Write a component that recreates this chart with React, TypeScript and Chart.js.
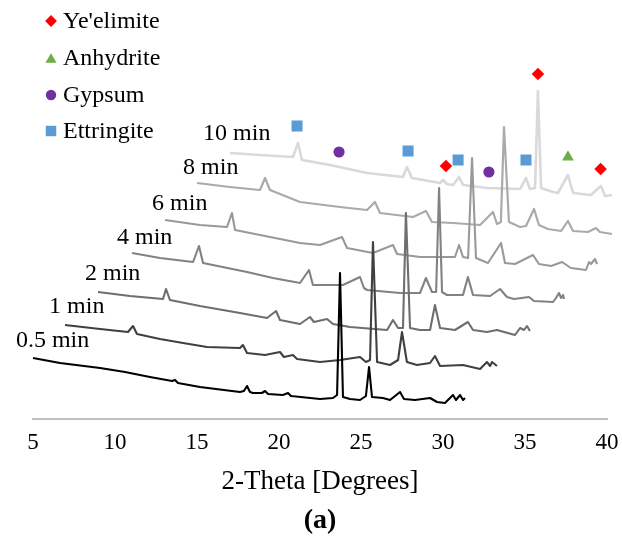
import React, { useEffect, useRef } from 'react';
import { Chart, registerables } from 'chart.js';

Chart.register(...registerables);

const FONT = "'Liberation Serif', 'Times New Roman', Times, serif";

// ---------- DATA (2-Theta in degrees, offset intensity in arbitrary units) ----------
const seriesNames = ['0.5 min', '1 min', '2 min', '4 min', '6 min', '8 min', '10 min'];

const s05: [number, number][] = [
  [5.0, 61], [6.65, 56], [9.09, 51], [10.61, 47], [12.13, 42], [13.48, 38], [13.66, 39], [13.84, 36],
  [15.18, 32], [17.62, 27], [17.86, 28], [18.05, 33], [18.23, 27], [18.41, 26], [18.96, 26], [19.15, 28],
  [19.33, 25], [20.24, 24], [20.55, 26], [20.73, 23], [22.5, 20], [23.29, 21], [23.54, 24], [23.72, 146],
  [23.9, 22], [24.33, 20], [24.94, 19], [25.3, 23], [25.49, 52], [25.67, 22], [26.34, 21], [26.77, 19],
  [27.38, 27], [27.62, 20], [28.29, 19], [29.21, 21], [29.63, 17], [30.12, 16], [30.61, 24], [30.79, 19],
  [31.04, 24], [31.22, 19], [31.34, 21],
];
const s1: [number, number][] = [
  [6.95, 94], [9.09, 90], [10.79, 87], [11.1, 93], [11.34, 85], [12.74, 80], [14.15, 76], [15.61, 72],
  [17.62, 71], [17.8, 74], [18.05, 66], [19.15, 64], [20.06, 67], [20.3, 62], [20.85, 64], [21.1, 60],
  [22.5, 57], [23.72, 59], [24.94, 62], [25.3, 57], [25.55, 59], [25.73, 177], [25.98, 57], [26.77, 54],
  [27.26, 59], [27.5, 87], [27.8, 57], [28.41, 54], [29.21, 56], [29.51, 63], [29.82, 53], [31.22, 54],
  [32.26, 50], [32.68, 57], [32.87, 53], [32.99, 57], [33.29, 53],
];
const s2: [number, number][] = [
  [8.96, 127], [10.91, 123], [12.93, 120], [13.11, 130], [13.35, 119], [15.18, 113], [17.62, 106],
  [19.27, 101], [19.82, 108], [20.06, 99], [21.28, 95], [21.89, 102], [22.13, 97], [22.93, 100], [23.29, 95],
  [24.33, 92], [26.59, 89], [26.95, 99], [27.26, 91], [27.56, 91], [27.74, 206], [27.99, 91], [28.6, 89],
  [29.21, 89], [29.51, 114], [29.82, 91], [30.73, 89], [31.52, 97], [31.83, 89], [32.68, 87], [33.29, 89],
  [34.39, 84], [34.7, 91], [34.94, 89], [35.12, 93], [35.3, 88],
];
const s4: [number, number][] = [
  [11.04, 166], [12.74, 161], [14.76, 157], [15.12, 173], [15.37, 156], [18.05, 147], [19.63, 141],
  [21.28, 136], [21.83, 149], [22.07, 134], [23.9, 134], [24.94, 142], [25.18, 131], [25.37, 129],
  [27.38, 126], [28.6, 126], [28.96, 141], [29.33, 127], [29.58, 127], [29.76, 231], [29.94, 127],
  [30.24, 124], [31.22, 124], [31.52, 142], [31.83, 124], [32.87, 123], [33.48, 130], [33.9, 122],
  [34.33, 120], [35.24, 122], [35.55, 118], [36.71, 117], [36.89, 121], [37.07, 126], [37.2, 121],
  [37.32, 124], [37.38, 120],
];
const s6: [number, number][] = [
  [13.05, 199], [15.18, 194], [16.83, 192], [17.13, 206], [17.32, 189], [19.45, 182], [21.28, 176],
  [22.5, 174], [23.84, 182], [24.15, 171], [25.73, 166], [26.95, 174], [27.2, 165], [28.6, 162],
  [30.73, 162], [30.98, 174], [31.22, 162], [31.53, 161], [31.77, 261], [32.01, 161], [32.74, 156],
  [33.54, 176], [33.78, 156], [34.39, 155], [35.49, 164], [35.85, 155], [36.59, 153], [37.26, 157],
  [37.8, 151], [38.72, 149], [38.9, 157], [39.02, 155], [39.27, 160], [39.39, 155],
];
const s8: [number, number][] = [
  [15.0, 236], [17.01, 232], [18.84, 229], [19.15, 241], [19.45, 229], [21.28, 217], [23.72, 212],
  [25.37, 209], [25.85, 217], [26.16, 206], [28.17, 202], [28.96, 208], [29.33, 197], [30.61, 196],
  [32.26, 194], [33.05, 207], [33.29, 195], [33.53, 197], [33.72, 292], [34.02, 197], [34.7, 192],
  [35.06, 193], [35.55, 210], [35.85, 194], [36.4, 190], [37.2, 188], [37.62, 198], [37.93, 188],
  [38.84, 187], [39.33, 191], [39.57, 187], [40.3, 185],
];
const s10: [number, number][] = [
  [17.01, 266], [18.84, 264], [20.85, 262], [21.16, 276], [21.4, 259], [23.11, 254], [25.37, 246],
  [27.56, 242], [27.8, 252], [28.11, 241], [29.82, 236], [30.0, 239], [30.24, 235], [30.61, 234],
  [30.98, 242], [31.22, 234], [32.68, 231], [34.7, 230], [35.06, 241], [35.3, 230], [35.61, 231],
  [35.79, 328], [35.98, 231], [36.71, 227], [37.01, 226], [37.62, 244], [37.93, 226], [39.02, 224],
  [39.63, 233], [39.88, 223], [40.3, 224],
];
const seriesData = [s05, s1, s2, s4, s6, s8, s10];

// curve label anchors (left edge, baseline) in data units
const labelX = [3.96, 5.98, 8.17, 10.12, 12.26, 14.15, 15.37];
const labelY = [72, 106, 139, 175, 209, 245, 279];

// phase markers
const yeelimite: [number, number][] = [[35.79, 345], [30.18, 253], [39.61, 250]];
const anhydrite: [number, number][] = [[37.62, 262]];
const gypsum: [number, number][] = [[23.66, 267], [32.8, 247]];
const ettringite: [number, number][] = [[21.1, 293], [27.87, 268], [30.92, 259], [35.06, 259]];

const phaseNames = ["Ye'elimite", 'Anhydrite', 'Gypsum', 'Ettringite'];

const xTickStep = 5;
const xMin = 5;
const xMax = 40;

// ---------- STYLES ----------
const lineColors = ['#000000', '#404040', '#6e6e6e', '#828282', '#999999', '#aaaaaa', '#d9d9d9'];
const lineWidths = [2.1, 2.1, 2.1, 2.1, 2.1, 2.2, 2.6];
const phaseColors = ['#ff0000', '#70ad47', '#7030a0', '#5b9bd5'];
const phaseStyles = ['rectRot', 'triangle', 'circle', 'rect'];
const phaseRadii = [6.3, 6.8, 5.6, 7.8];

function drawMarker(ctx: CanvasRenderingContext2D, style: string, x: number, y: number, r: number) {
  ctx.beginPath();
  if (style === 'rectRot') {
    ctx.moveTo(x, y - r);
    ctx.lineTo(x + r, y);
    ctx.lineTo(x, y + r);
    ctx.lineTo(x - r, y);
  } else if (style === 'triangle') {
    const w = r * Math.sqrt(3) / 2;
    ctx.moveTo(x, y - r * 0.75);
    ctx.lineTo(x + w, y + r * 0.75);
    ctx.lineTo(x - w, y + r * 0.75);
  } else if (style === 'circle') {
    ctx.arc(x, y, r, 0, Math.PI * 2);
  } else {
    const s = r * Math.SQRT1_2;
    ctx.rect(x - s, y - s, 2 * s, 2 * s);
  }
  ctx.closePath();
  ctx.fill();
}

const annotationPlugin = {
  id: 'xrdAnnotations',
  afterDatasetsDraw(chart: any) {
    const { ctx, scales } = chart;
    const xs = scales.x;
    const ys = scales.y;
    ctx.save();
    ctx.fillStyle = '#000';
    ctx.font = `24px ${FONT}`;
    ctx.textAlign = 'left';
    ctx.textBaseline = 'alphabetic';
    seriesNames.forEach((name, i) => {
      ctx.fillText(name, xs.getPixelForValue(labelX[i]), ys.getPixelForValue(labelY[i]));
    });
    // legend
    const legendCenters = [21, 58, 95, 131];
    phaseNames.forEach((name, i) => {
      ctx.fillStyle = phaseColors[i];
      drawMarker(ctx, phaseStyles[i], 51, legendCenters[i], phaseRadii[i] - 0.4);
      ctx.fillStyle = '#000';
      ctx.fillText(name, 63, legendCenters[i] + 7);
    });
    ctx.restore();
  },
};

export default function App() {
  const canvasRef = useRef<HTMLCanvasElement | null>(null);

  useEffect(() => {
    if (!canvasRef.current) return;
    const lineSets = seriesData.map((pts, i) => ({
      type: 'line' as const,
      label: seriesNames[i],
      data: pts.map(([x, y]) => ({ x, y })),
      borderColor: lineColors[i],
      borderWidth: lineWidths[i],
      pointRadius: 0,
      tension: 0,
      fill: false,
      clip: false as any,
      borderJoinStyle: 'round' as const,
    }));
    const markerSets = [yeelimite, anhydrite, gypsum, ettringite].map((pts, i) => ({
      type: 'scatter' as const,
      label: phaseNames[i],
      data: pts.map(([x, y]) => ({ x, y })),
      pointStyle: phaseStyles[i] as any,
      pointRadius: phaseRadii[i],
      backgroundColor: phaseColors[i],
      borderWidth: 0,
      showLine: false,
      clip: false as any,
    }));

    const chart = new Chart(canvasRef.current, {
      type: 'line',
      data: { datasets: [...markerSets, ...lineSets] as any },
      options: {
        animation: false,
        responsive: false,
        devicePixelRatio: 1,
        layout: { padding: { left: 33, right: 15, top: 19, bottom: 0 } },
        plugins: {
          legend: { display: false },
          tooltip: { enabled: false },
          title: {
            display: true,
            text: '(a)',
            position: 'bottom',
            color: '#000',
            font: { family: FONT, size: 28, weight: 'bold' },
            padding: { top: 0, bottom: 0 },
          },
        },
        scales: {
          x: {
            type: 'linear',
            min: xMin,
            max: xMax,
            grid: {
              display: true,
              drawOnChartArea: false,
              drawTicks: true,
              tickLength: 12,
              color: 'rgba(0,0,0,0)',
              tickColor: 'rgba(0,0,0,0)',
            },
            border: { display: true, color: '#c0c0c0', width: 2 },
            ticks: {
              stepSize: xTickStep,
              color: '#000',
              padding: 0,
              font: { family: FONT, size: 23, lineHeight: 1 },
              maxRotation: 0,
            },
            title: {
              display: true,
              text: '2-Theta [Degrees]',
              color: '#000',
              font: { family: FONT, size: 27 },
              padding: { top: 11.8, bottom: 6.2 },
            },
          },
          y: { type: 'linear', display: false, min: 0, max: 400 },
        },
      },
      plugins: [annotationPlugin],
    });
    return () => chart.destroy();
  }, []);

  return (
    <div style={{ position: 'fixed', left: 0, top: 0, width: 622, height: 538, background: '#fff' }}>
      <canvas ref={canvasRef} width={622} height={538} style={{ display: 'block' }} />
    </div>
  );
}
